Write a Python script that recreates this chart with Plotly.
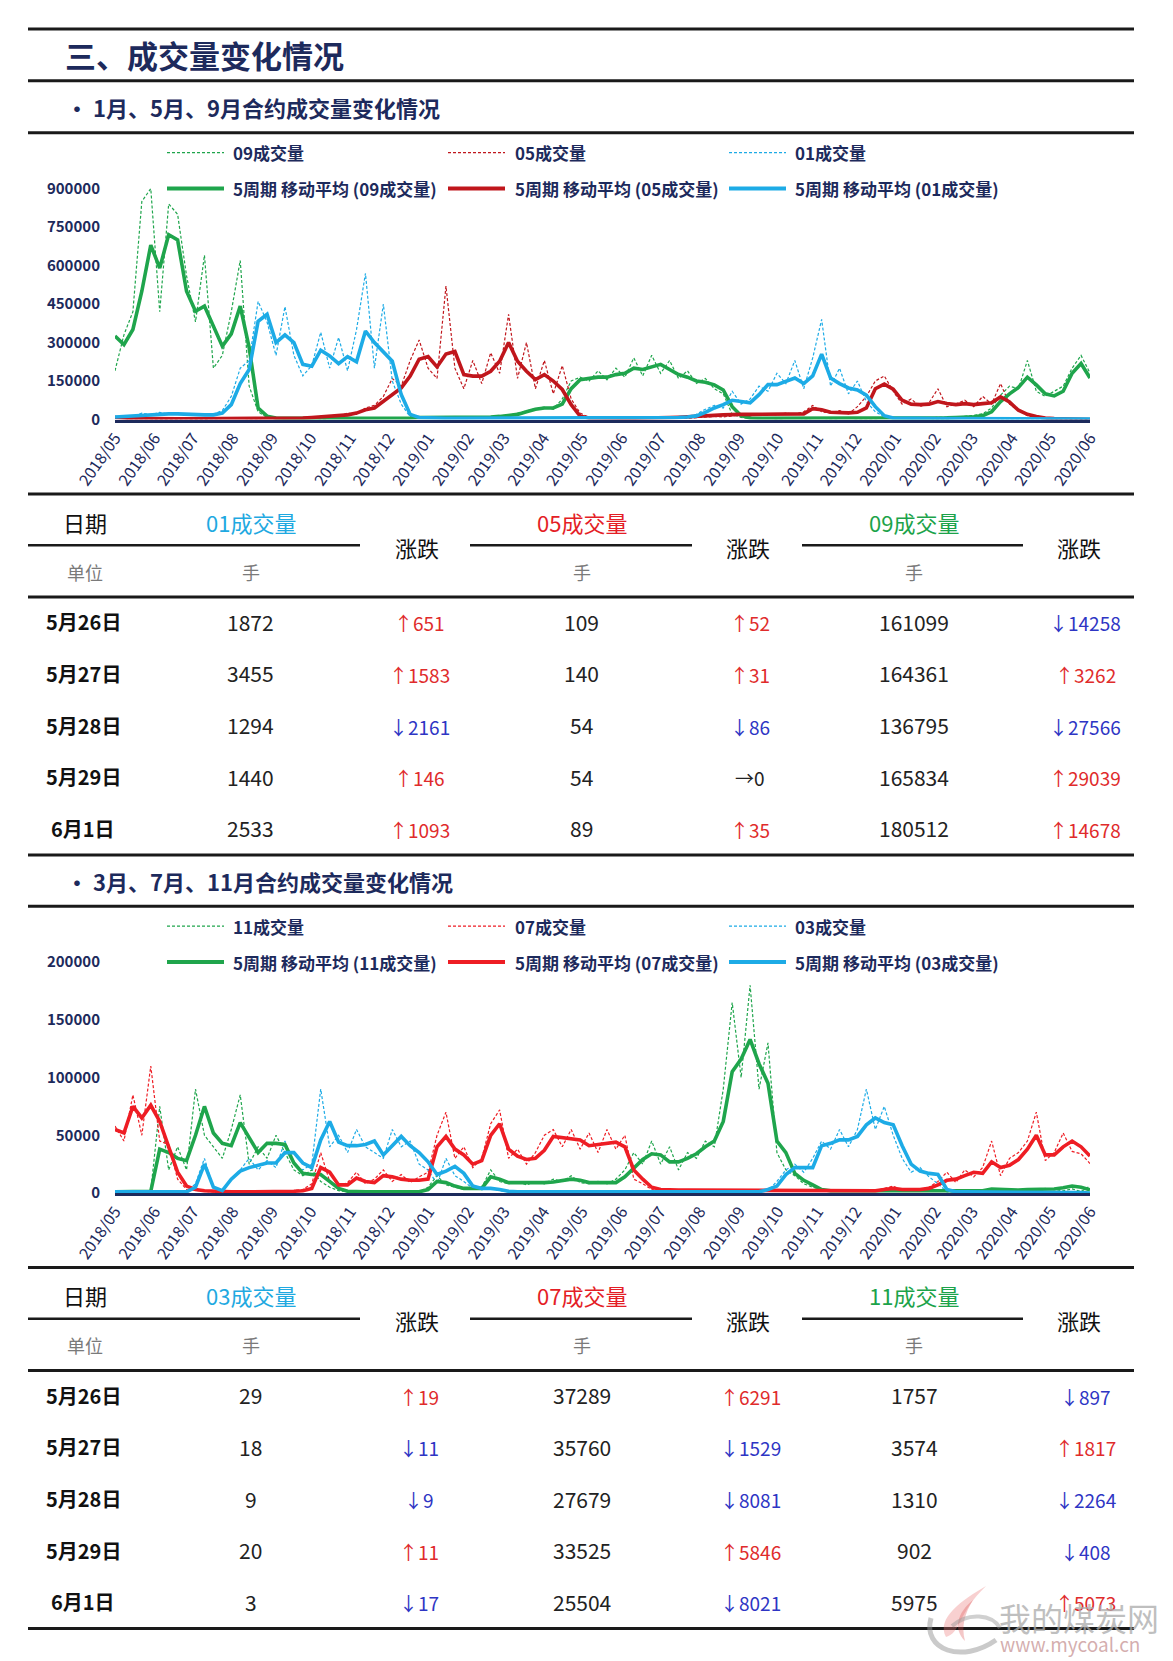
import pandas as pd
import plotly.graph_objects as go

W, H = 1173, 1661
NAVY = "#1D2A5C"
FONT = "Noto Sans CJK SC"
BLK = "#1a1a1a"

def X(x):
    return x / W

def Y(y):
    return 1 - y / H

# ---------------- data (values in thousands of lots, weekly readings) ----------------
dates = pd.date_range("2018-05-01", "2020-06-01", periods=110)
month_ticks = pd.date_range("2018-05-01", "2020-06-01", freq="MS")
tick_text = [d.strftime("%Y/%m") for d in month_ticks]

# chart 1 : 09 / 05 / 01 contracts
c09_raw = [190,330,420,850,900,420,840,800,560,380,
           640,200,250,420,620,130,30,8,5,4,
           4,5,6,3,4,5,6,4,5,6,
           4,6,5,7,9,7,6,9,8,10,
           8,11,9,14,17,25,35,42,48,40,
           80,150,165,150,190,155,200,165,240,170,
           250,180,230,160,190,140,160,120,100,20,
           8,4,4,5,3,4,5,3,4,5,
           3,4,5,3,4,5,4,4,6,4,
           5,6,7,8,9,12,16,22,45,95,
           130,120,230,110,90,110,130,200,250,180.5]
c09_ma = [325,292,351,500,680,590,720,700,500,422,
          442,360,286,334,442,280,45,13,6,5,
          5,5,5,4,4,4,5,5,5,5,
          5,5,5,6,8,8,7,8,8,9,
          9,10,10,12,15,20,30,40,45,45,
          60,120,155,160,165,165,175,180,200,195,
          205,215,195,175,165,150,145,135,115,50,
          15,6,5,5,4,4,4,4,4,4,
          4,4,4,4,4,4,4,4,5,5,
          5,5,6,7,8,9,11,15,30,70,
          100,125,165,135,100,92,110,180,218,162]
c05_raw = [12,4,3,4,3,2,3,4,3,2,
           3,4,3,4,5,3,4,6,5,4,
           7,6,9,12,10,15,25,20,45,55,
           90,160,130,230,310,200,160,520,200,120,
           230,140,260,180,410,160,300,120,230,100,
           210,80,25,8,5,4,6,5,4,6,
           5,6,4,6,5,7,9,12,10,15,
           18,14,20,22,18,25,20,30,55,30,
           25,35,22,50,90,150,170,110,60,80,
           50,65,120,50,60,75,50,90,60,140,
           60,35,15,8,4,3,2,1.5,0.5,0.09]
c05_ma = [8,5,4,4,3,3,3,3,3,3,
          3,3,3,4,4,4,4,5,5,5,
          6,6,8,10,12,14,18,25,38,45,
          70,97,123,169,235,245,205,255,265,175,
          169,169,188,227,300,227,188,156,175,150,
          117,58,13,6,5,5,5,5,5,5,
          6,7,8,9,10,12,14,16,18,20,
          20,20,20,20,20,20,21,22,42,38,
          28,26,26,28,45,120,138,118,75,60,
          58,60,70,62,58,62,58,62,65,88,
          68,36,20,12,6,4,3,2,1,0.09]
c01_raw = [8,15,12,25,18,28,20,25,18,22,
           16,20,35,90,200,230,460,380,250,440,
           250,170,210,340,200,320,190,350,570,200,
           450,150,60,10,6,4,5,6,4,5,
           5,4,6,5,4,5,6,5,4,5,
           5,6,4,5,5,4,6,5,5,4,
           5,6,8,10,12,20,40,55,45,110,
           60,80,130,110,180,140,230,120,240,390,
           130,200,100,150,70,30,10,6,4,5,
           4,5,4,3,5,4,3,4,4,3,
           4,3,3,4,3,2,4,3,1.9,2.5]
c01_ma = [10,12,15,18,20,22,22,22,20,20,
          18,18,25,58,140,195,383,410,300,330,
          300,215,208,270,248,218,245,225,345,300,
          262,227,97,20,8,6,5,5,5,5,
          5,5,5,5,5,5,5,5,5,5,
          5,5,5,5,5,5,5,5,5,5,
          5,5,6,8,10,14,28,45,58,75,
          70,65,97,136,136,150,162,140,170,255,
          162,140,123,115,95,50,15,6,5,5,
          4,4,4,4,4,4,4,4,3,3,
          3,3,3,3,3,3,3,3,3,2.1]

# chart 2 : 11 / 07 / 03 contracts
c11_raw = [1,1,1,1,2,75,20,40,20,90,
           50,40,30,55,85,25,40,30,50,35,
           20,15,20,10,5,2,1,1,1,1,
           1,1,1,1,1,5,15,7,5,3,
           4,5,20,10,8,10,7,10,8,12,
           10,15,9,8,10,8,12,20,35,25,
           45,25,40,20,35,30,45,40,90,165,
           100,180,90,130,35,20,15,8,5,3,
           2,2,2,1.5,2,2,2,2,2,2,
           2,2,2,2,2,2,2,2,4,3,
           2,3,3,2,4,3,1.8,3.6,1.3,6.0]
c11_ma = [1,1,1,1,1.5,38,35,30,28,50,
          75,52,43,41,61,48,35,43,43,42,
          26,17,16,16,10,4,1.5,1,1,1,
          1,1,1,1,1,3,10,9,6,4,
          4,4,14,12,9,9,8.5,8.5,9,9.5,
          11,12,11,9,9,9,9,14,22,29,
          34,33,27,27,30,34,40,45,62,105,
          116,133,112,95,45,35,17,11,7,3,
          2,2,2,2,2,2,2,2,2,2,
          2,2,2,2,2,2,2,2,3.5,3,
          2.5,2.5,3,3,3,3.5,4.5,6,5,2.7]
c07_raw = [58,45,85,50,110,45,42,12,3,2,
           1.5,1,1,1,1,1,1,1,1,1.5,
           2,3,8,35,10,6,9,18,8,12,
           20,10,16,9,14,18,50,70,30,40,
           22,30,60,72,30,38,25,35,50,55,
           40,55,38,52,35,55,38,50,12,8,
           3,2,2,3,2,3,2,3,2,3,
           2,3,2,3,2,3,2,3,2,3,
           2,3,2,3,2,2,4,6,2,3,
           3,5,10,18,9,20,14,22,45,15,
           30,35,45,70,28,35,52,36,34,25.5]
c07_ma = [55,52,75,65,76,62,40,18,6,3,
          2,1.5,1,1,1,1,1,1,1,1,
          1.5,2,4,22,18,7,7,13,10,9,
          15,14,12,11,11,12,40,49,38,33,
          25,28,50,60,38,32,29,30,37,49,
          48,47,46,41,42,43,44,40,20,12,
          5,3,2.5,2.5,2.5,2.5,2.5,2.5,2.5,2.5,
          2.5,2.5,2.5,2.5,2.5,2.5,2.5,2.5,2.5,2.5,
          2.5,2.5,2.5,2.5,2.5,2,3,4,3,3,
          3,4,7,11,12,15,18,17,27,22,
          24,29,38,50,33,33,40,45,40,32]
c03_raw = [1,1,1,1,1,1,1,1,1,8,
           30,4,1,12,20,30,20,28,22,45,
           25,20,25,90,40,50,35,55,40,35,
           30,55,40,45,25,20,8,30,15,10,
           4,3,4,2,1,1,1,1,1,1,
           1,1,1,1,1,1,1,1,1,1,
           1,1,1,1,1,1,1,1,1,1,
           1,1,1,2,10,20,25,18,30,45,
           38,55,40,55,90,55,75,50,30,18,
           22,14,8,1,1,1,1,1,0.5,0.5,
           0.5,0.5,0.5,0.5,0.5,0.03,0.02,0.01,0.02,0.003]
c03_ma = [1,1,1,1,1,1,1,1,1,5,
          25,5,2,12,19,22,24,26,26,35,
          35,26,22,46,62,44,41,41,42,45,
          33,41,49,41,35,27,16,19,23,17,
          6,4,4,3,1.5,1,1,1,1,1,
          1,1,1,1,1,1,1,1,1,1,
          1,1,1,1,1,1,1,1,1,1,
          1,1,1,3,6,16,22,22,22,41,
          43,46,46,49,59,65,61,59,41,25,
          19,17,16,3,1,1,1,1,0.5,0.5,
          0.5,0.5,0.5,0.5,0.5,0.5,0.5,0.5,0.3,0.016]

for arr in [c09_raw, c09_ma, c05_raw, c05_ma, c01_raw, c01_ma,
            c11_raw, c11_ma, c07_raw, c07_ma, c03_raw, c03_ma]:
    assert len(arr) == len(dates), len(arr)

# table data
row_dates = ["5月26日", "5月27日", "5月28日", "5月29日", "6月1日"]
t1_names = ["01成交量", "05成交量", "09成交量"]
t1_vals = [[1872, 3455, 1294, 1440, 2533],
           [109, 140, 54, 54, 89],
           [161099, 164361, 136795, 165834, 180512]]
t1_chg = [[651, 1583, -2161, 146, 1093],
          [52, 31, -86, 0, 35],
          [-14258, 3262, -27566, 29039, 14678]]
t2_names = ["03成交量", "07成交量", "11成交量"]
t2_vals = [[29, 18, 9, 20, 3],
           [37289, 35760, 27679, 33525, 25504],
           [1757, 3574, 1310, 902, 5975]]
t2_chg = [[19, -11, -9, 11, -17],
          [6291, -1529, -8081, 5846, -8021],
          [-897, 1817, -2264, -408, 5073]]

GREEN = "#1FA54C"
RED1 = "#C0161C"
RED2 = "#EE1D24"
BLUE = "#1DABE6"
HEAD_COLORS = ["#1FA9E1", "#E41E26", "#1CA34A"]

fig = go.Figure()

def add_chart(idx, raws, mas, names, colors):
    xa = "x" if idx == 1 else "x2"
    ya = "y" if idx == 1 else "y2"
    for raw, nm, col in zip(raws, names, colors):
        fig.add_trace(go.Scatter(x=dates, y=[v * 1000 for v in raw], mode="lines",
                                 name=nm + "成交量", xaxis=xa, yaxis=ya, showlegend=False,
                                 line=dict(color=col, width=1.2, dash="3px,2px")))
    for ma, nm, col in zip(mas, names, colors):
        fig.add_trace(go.Scatter(x=dates, y=[v * 1000 for v in ma], mode="lines",
                                 name="5周期 移动平均 (" + nm + "成交量)", xaxis=xa, yaxis=ya,
                                 showlegend=False, line=dict(color=col, width=3.6)))

add_chart(1, [c09_raw, c05_raw, c01_raw], [c09_ma, c05_ma, c01_ma],
          ["09", "05", "01"], [GREEN, RED1, BLUE])
add_chart(2, [c11_raw, c07_raw, c03_raw], [c11_ma, c07_ma, c03_ma],
          ["11", "07", "03"], [GREEN, RED2, BLUE])

D = 773.5  # vertical shift of second block

def xaxis_cfg(anchor):
    return dict(domain=[X(115), X(1090)], type="date", anchor=anchor,
                range=[dates[0], dates[-1]], tickmode="array",
                tickvals=list(month_ticks), ticktext=tick_text, tickangle=-55,
                tickfont=dict(family=FONT, size=16, color=NAVY),
                showline=True, linecolor=NAVY, linewidth=3, showgrid=False,
                zeroline=False, ticks="", automargin=False)

def yaxis_cfg(anchor, top, bottom, vmax, step):
    vals = list(range(0, vmax + 1, step))
    return dict(domain=[Y(bottom), Y(top)], anchor=anchor, range=[0, vmax],
                tickmode="array", tickvals=vals, ticktext=[str(v) for v in vals],
                tickfont=dict(family=FONT, size=15, color=NAVY, weight="bold"),
                showgrid=False, zeroline=False, showline=False, ticks="",
                ticklabelstandoff=14, automargin=False)

fig.update_layout(
    width=W, height=H, autosize=False,
    margin=dict(l=0, r=0, t=0, b=0, pad=0, autoexpand=False),
    paper_bgcolor="white", plot_bgcolor="white",
    font=dict(family=FONT, color=NAVY),
    xaxis=xaxis_cfg("y"),
    yaxis=yaxis_cfg("x", 188.6, 419.5, 900000, 150000),
    xaxis2=xaxis_cfg("y2"),
    yaxis2=yaxis_cfg("x2", 188.6 + D, 419.5 + D, 200000, 50000),
)

def hline(x0, x1, y, w=3, color=BLK):
    fig.add_shape(type="line", xref="paper", yref="paper", x0=X(x0), x1=X(x1),
                  y0=Y(y), y1=Y(y), line=dict(color=color, width=w))

def text(x, y, s, size, color, bold=False, anchor="center"):
    fig.add_annotation(x=X(x), y=Y(y), xref="paper", yref="paper", text=s,
                       showarrow=False, xanchor=anchor, yanchor="middle",
                       font=dict(family=FONT, size=size, color=color,
                                 weight="bold" if bold else "normal"))

# ---- title block ----
hline(28, 1134, 29)
text(63, 55, "三、成交量变化情况", 31, NAVY, bold=True, anchor="left")
hline(28, 1134, 80.7)
text(64, 107.5, "• 1月、5月、9月合约成交量变化情况", 22, NAVY, bold=True, anchor="left")
hline(28, 1134, 132.7)
text(64, 107.5 + D, "• 3月、7月、11月合约成交量变化情况", 22, NAVY, bold=True, anchor="left")
hline(28, 1134, 132.7 + D)

# ---- manual legends ----
def legend(dy, names, colors):
    xs_line = [167, 448, 729]
    xs_text = [231, 513, 793]
    for k in range(3):
        y1 = 152.6 + dy
        y2 = 188.6 + dy
        fig.add_shape(type="line", xref="paper", yref="paper",
                      x0=X(xs_line[k]), x1=X(xs_line[k] + 57), y0=Y(y1), y1=Y(y1),
                      line=dict(color=colors[k], width=1.3, dash="3px,2px"))
        text(xs_text[k], y1, names[k] + "成交量", 17, NAVY, bold=True, anchor="left")
        fig.add_shape(type="line", xref="paper", yref="paper",
                      x0=X(xs_line[k]), x1=X(xs_line[k] + 57), y0=Y(y2), y1=Y(y2),
                      line=dict(color=colors[k], width=4))
        text(xs_text[k], y2, "5周期 移动平均 (" + names[k] + "成交量)", 17, NAVY,
             bold=True, anchor="left")

legend(0, ["09", "05", "01"], [GREEN, RED1, BLUE])
legend(D, ["11", "07", "03"], [GREEN, RED2, BLUE])

# ---- tables ----
UP = "#E02B2B"
DOWN = "#2E35C4"

def chg_text(v):
    if v > 0:
        return "↑" + str(v), UP
    if v < 0:
        return "↓" + str(-v), DOWN
    return "→0", "#222222"

def table(dy, names, vals, chgs):
    hline(28, 1134, 494 + dy, 3.2)
    text(85, 521.7 + dy, "日期", 22, "#111111")
    val_x = [250.5, 581.5, 914]
    chg_x = [419, 750, 1085]
    head_x = [416.5, 747.5, 1079]
    mid = [(28, 360), (470, 692), (802, 1023)]
    for k in range(3):
        text(val_x[k], 521.7 + dy, names[k], 22, HEAD_COLORS[k])
        hline(mid[k][0], mid[k][1], 545.3 + dy, 2.6)
        text(head_x[k], 546.7 + dy, "涨跌", 22, "#111111")
        text(val_x[k], 571.7 + dy, "手", 18, "#7a7a7a")
    text(85, 571.7 + dy, "单位", 18, "#7a7a7a")
    hline(28, 1134, 597 + dy, 3.2)
    for r in range(5):
        yy = 621.7 + dy + r * 51.65
        text(83, yy, row_dates[r], 20, "#111111", bold=True)
        for k in range(3):
            text(val_x[k], yy, str(vals[k][r]), 21, "#222222")
            s, c = chg_text(chgs[k][r])
            text(chg_x[k], yy + 1, s, 19, c)
    hline(28, 1134, 855 + dy, 3.2)

table(0, t1_names, t1_vals, t1_chg)
table(D, t2_names, t2_vals, t2_chg)

# ---- watermark ----
def mkpath(cmds):
    out = []
    for c in cmds:
        if isinstance(c, str):
            out.append(c)
        else:
            out.append("%f,%f" % (X(c[0]), Y(c[1])))
    return " ".join(out)

flame = mkpath(["M", (986, 1586), "C", (962, 1600), (936, 1618), (946, 1637),
                (951, 1648), (968, 1651), (979, 1641), "C", (961, 1633), (957, 1614),
                (986, 1586), "Z"])
flame2 = mkpath(["M", (973, 1600), "C", (957, 1613), (953, 1629), (965, 1641),
                 "C", (961, 1626), (965, 1613), (973, 1600), "Z"])
swoosh = mkpath(["M", (931, 1618), "C", (922, 1650), (962, 1664), (996, 1640)])
swoosh2 = mkpath(["M", (952, 1626), "C", (968, 1612), (992, 1614), (1000, 1628)])
fig.add_shape(type="path", xref="paper", yref="paper", path=flame,
              fillcolor="rgba(235,120,120,0.35)", line=dict(width=0))
fig.add_shape(type="path", xref="paper", yref="paper", path=flame2,
              fillcolor="rgba(220,70,70,0.30)", line=dict(width=0))
fig.add_shape(type="path", xref="paper", yref="paper", path=swoosh,
              line=dict(color="rgba(150,150,150,0.5)", width=5))
fig.add_shape(type="path", xref="paper", yref="paper", path=swoosh2,
              line=dict(color="rgba(150,150,150,0.45)", width=4))
text(997, 1617, "我的煤炭网", 32, "rgba(170,170,170,0.75)", anchor="left")
text(998, 1643, "www.mycoal.cn", 19, "rgba(205,160,160,0.85)", anchor="left")

fig.write_html("out.html", config={"displayModeBar": False},
               post_script="document.body.style.margin='0';")
